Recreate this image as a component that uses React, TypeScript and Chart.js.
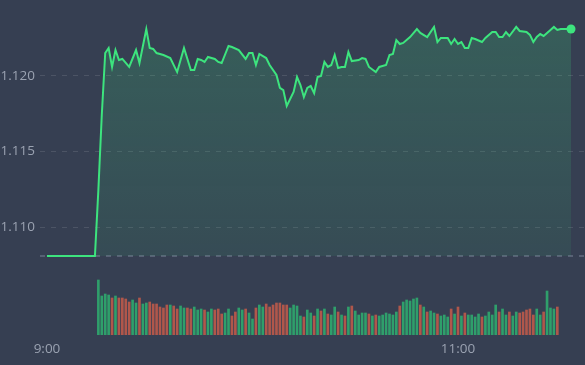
import React, { useEffect, useRef } from "react";
import { Chart, registerables } from "chart.js";

Chart.register(...registerables);

// ---- data ----
const prevClose = 1.10808;

// minutes after 9:00
const priceMinutes = [
  0, 14, 15, 16, 17, 18, 19, 20, 21, 22, 24, 26, 27, 29, 30, 31, 32, 34, 36, 38,
  40, 42, 43, 44, 45, 46, 47, 49, 50, 51, 53, 54, 56, 58, 59, 60, 61, 62, 64, 65,
  67, 68, 69, 70, 72, 73, 74, 75, 76, 77, 78, 79, 80, 81, 82, 83, 84, 85, 86, 87,
  88, 89, 91, 92, 93, 94, 96, 97, 99, 100, 101, 102, 103, 104, 106, 108, 109, 111, 113, 114,
  115, 117, 118, 119, 120, 121, 122, 123, 124, 125, 127, 128, 130, 131, 132, 133, 134, 135, 137, 138,
  140, 141, 142, 143, 144, 145, 147, 148, 149, 150, 153,
];

const prices = [
  1.10808, 1.10808, 1.11245, 1.11742, 1.12152, 1.12185, 1.1206, 1.12172, 1.12106, 1.12113,
  1.1206, 1.12172, 1.12086, 1.12311, 1.12185, 1.12179, 1.12152, 1.12139, 1.12119, 1.12026,
  1.12185, 1.1204, 1.1204, 1.12113, 1.12106, 1.12093, 1.12126, 1.12113, 1.12093, 1.12086,
  1.12199, 1.12192, 1.12172, 1.12113, 1.12152, 1.12152, 1.12073, 1.12146, 1.12119, 1.12073,
  1.12007, 1.11921, 1.11907, 1.11801, 1.11894, 1.11993, 1.1194, 1.11861, 1.11921, 1.11934,
  1.11887, 1.11993, 1.12, 1.12093, 1.1206, 1.12073, 1.12139, 1.12053, 1.1206, 1.1206,
  1.12159, 1.12099, 1.12106, 1.12119, 1.12113, 1.1206, 1.12026, 1.1206, 1.12073, 1.12139,
  1.12146, 1.12238, 1.12212, 1.12219, 1.12258, 1.12311, 1.12285, 1.12258, 1.12325, 1.12225,
  1.12252, 1.12252, 1.12212, 1.12245, 1.12212, 1.12225, 1.12185, 1.12185, 1.12252, 1.12245,
  1.12225, 1.12252, 1.12291, 1.12291, 1.12258, 1.12258, 1.12291, 1.12265, 1.12325, 1.12298,
  1.12291, 1.12272, 1.12225, 1.12258, 1.12278, 1.12265, 1.12305, 1.12325, 1.12305, 1.12311,
  1.12311,
];

const volumeFirstMinute = 15;
const volumes = [
  55, 39, 41, 40, 37, 39, 37, 37, 36, 33, 35, 32, 37, 31, 32, 33, 31, 31, 28, 27,
  30, 30, 29, 26, 29, 27, 27, 26, 28, 25, 26, 25, 23, 26, 25, 26, 21, 22, 26, 19,
  23, 27, 25, 26, 22, 16, 27, 30, 28, 31, 28, 30, 32, 32, 30, 30, 27, 30, 29, 19,
  18, 25, 22, 19, 26, 24, 26, 21, 20, 28, 23, 20, 19, 28, 29, 24, 20, 22, 22, 21,
  19, 20, 19, 20, 22, 21, 20, 23, 29, 33, 35, 34, 36, 37, 30, 28, 23, 24, 22, 21,
  19, 20, 18, 26, 21, 28, 19, 22, 20, 20, 18, 21, 18, 19, 23, 20, 30, 23, 26, 20,
  23, 19, 23, 22, 23, 25, 26, 20, 26, 20, 23, 44, 27, 26, 28,
];
// G = up (green), R = down (red)
const volumeDirections =
  "GGGGRGRRRR" + "GGRGGRRRRR" + "RGRRGGRRGG" + "GRGGRRRGGR" + "RGGRGGRGGR" +
  "RRRRRRGGGG" + "RGGRGRGRGG" + "RGRGRGGGGR" + "GRGGGGGGRG" + "GGGGRGRGGR" +
  "GGGRGRGRGG" + "GGRGGGGRGG" + "RGGRRRRRGG" + "RGGGR";

const xTickValues = [0, 120];
const xTickLabels = ["9:00", "11:00"];
const yTickValues = [1.11, 1.115, 1.12];

// ---- styles ----
const BG = "#363f52";
const LINE = "#3de47e";
const UP = "#2f9f6b";
const DOWN = "#b0574b";
const GRID = "rgba(255,255,255,0.11)";
const TEXT = "#9aa2b1";
const FONT = { family: "'Open Sans', sans-serif", size: 13.5 };

const X_MIN = -2.04;
const X_MAX = 157.08;
const Y_MAX = 1.125033;
const Y_MIN = 1.102848;

export default function App() {
  const ref = useRef<HTMLCanvasElement>(null);

  useEffect(() => {
    const canvas = ref.current;
    if (!canvas) return;
    const priceData = priceMinutes.map((m, i) => ({ x: m, y: prices[i] }));
    const volData = volumes.map((v, i) => ({ x: volumeFirstMinute + i, y: v }));
    const volColors = volumes.map((_, i) => (volumeDirections[i] === "G" ? UP : DOWN));
    const lastIdx = priceData.length - 1;
    const maxPrice = Math.max(...prices);

    const chart = new Chart(canvas, {
      type: "line",
      data: {
        datasets: [
          {
            type: "line",
            data: priceData,
            borderColor: LINE,
            borderWidth: 2,
            tension: 0,
            fill: { value: prevClose },
            backgroundColor: (c: any) => {
              const ch = c.chart;
              const area = ch.chartArea;
              if (!area) return "rgba(61,228,126,0.15)";
              const top = ch.scales.y.getPixelForValue(maxPrice);
              const bottom = ch.scales.y.getPixelForValue(prevClose);
              const g = ch.ctx.createLinearGradient(0, top, 0, bottom);
              g.addColorStop(0, "rgba(61,228,126,0.19)");
              g.addColorStop(1, "rgba(61,228,126,0.08)");
              return g;
            },
            pointRadius: (c: any) => (c.dataIndex === lastIdx ? 4.5 : 0),
            pointBackgroundColor: LINE,
            pointBorderWidth: 0,
            pointHoverRadius: 0,
            yAxisID: "y",
            order: 0,
          } as any,
          {
            type: "line",
            data: [
              { x: X_MIN, y: prevClose },
              { x: X_MAX, y: prevClose },
            ],
            borderColor: "#586175",
            borderWidth: 2,
            borderDash: [5, 6],
            pointRadius: 0,
            fill: false,
            yAxisID: "y",
            order: 1,
          } as any,
          {
            type: "bar",
            data: volData,
            backgroundColor: volColors,
            barThickness: 2,
            yAxisID: "vol",
            order: 2,
          } as any,
        ],
      },
      options: {
        animation: false,
        responsive: true,
        maintainAspectRatio: false,
        layout: { padding: 0, autoPadding: false },
        events: [],
        plugins: {
          legend: { display: false },
          tooltip: { enabled: false },
        },
        scales: {
          x: {
            type: "linear",
            min: X_MIN,
            max: X_MAX,
            offset: false,
            grid: { display: false, drawTicks: false },
            border: { display: false },
            ticks: {
              color: TEXT,
              font: FONT,
              padding: 6,
              autoSkip: false,
              maxRotation: 0,
              callback: (_v: any, i: number) => xTickLabels[i],
            },
            afterBuildTicks: (s: any) => {
              s.ticks = xTickValues.map((v) => ({ value: v }));
            },
            afterFit: (s: any) => {
              s.height = 30;
              s.paddingLeft = 0;
              s.paddingRight = 0;
            },
          },
          y: {
            type: "linear",
            position: "left",
            min: Y_MIN,
            max: Y_MAX,
            grid: { color: GRID, drawTicks: false, lineWidth: 1 },
            border: { display: false, dash: [5, 6] },
            ticks: {
              color: TEXT,
              font: FONT,
              padding: 5,
              autoSkip: false,
              callback: (v: any) => Number(v).toFixed(3),
            },
            afterBuildTicks: (s: any) => {
              s.ticks = yTickValues.map((v) => ({ value: v }));
            },
            afterFit: (s: any) => {
              s.width = 40;
              s.paddingTop = 0;
              s.paddingBottom = 0;
            },
          },
          vol: {
            type: "linear",
            display: false,
            min: 0,
            max: 335,
          },
        },
      } as any,
    });
    return () => chart.destroy();
  }, []);

  return (
    <div
      style={{
        position: "fixed",
        left: 0,
        top: 0,
        width: 585,
        height: 365,
        background: BG,
      }}
    >
      <canvas ref={ref} />
    </div>
  );
}
